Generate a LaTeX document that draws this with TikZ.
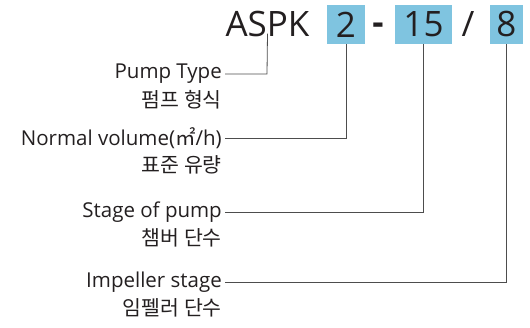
\documentclass[tikz,border=0pt]{standalone}
\usepackage{fontspec}
\setmainfont{Open Sans}
\newfontfamily\kofont{Noto Sans CJK KR}
\usepackage{xcolor}
\usetikzlibrary{positioning, calc}
\definecolor{codeblue}{HTML}{7FC4E0}
\definecolor{inkgray}{HTML}{231F20}
\definecolor{leadgray}{HTML}{4D4D4D}

\begin{document}
\begin{tikzpicture}[x=1pt, y=-1pt,
  codebox/.style={fill=codeblue, inner sep=0pt, minimum height=39pt,
                  text=inkgray, font=\fontsize{35}{35}\selectfont},
  sep/.style={inner sep=0pt, text=inkgray, font=\fontsize{35}{35}\selectfont},
  enlabel/.style={anchor=east, inner sep=3pt, text=inkgray,
                  font=\fontsize{20.5}{20.5}\selectfont},
  kolabel/.style={anchor=east, inner sep=3pt, text=inkgray,
                  font=\kofont\fontsize{20.5}{20.5}\selectfont},
  lead/.style={draw=leadgray, line width=0.8pt}
]
  \useasboundingbox (0,0) rectangle (530,328);
  % model code
  \node[sep] (model) at (267.5,24.5) {ASPK};
  \node[codebox, minimum width=38pt] (pump) at (346,24.5) {2};
  \node[sep, font=\bfseries\fontsize{35}{35}\selectfont] (dash) at (378,28.5) {-};
  \node[codebox, minimum width=57pt] (flow) at (423.5,24.5) {15};
  \node[sep] (slash) at (468,24.5) {/};
  \node[codebox, minimum width=33pt] (imp) at (506.5,24.5) {8};
  % labels
  \node[enlabel] (ptype) at (225,74) {Pump Type};
  \node[kolabel] (ptypeko) at (225,100) {펌프 형식};
  \node[enlabel] (vol) at (225,138) {Normal volume({\kofont ㎡}/h)};
  \node[kolabel] (volko) at (225,165) {표준 유량};
  \node[enlabel] (stage) at (225,212) {Stage of pump};
  \node[kolabel] (stageko) at (225,238) {챔버 단수};
  \node[enlabel] (impst) at (225,282) {Impeller stage};
  \node[kolabel] (impstko) at (225,308) {임펠러 단수};
  % leader lines
  \coordinate (c1) at (267,75);
  \coordinate (c2) at (346,138);
  \coordinate (c3) at (423.5,212);
  \coordinate (c4) at (506.5,282);
  \draw[lead] (ptype.east) -- (ptype.east -| c1) -- ($(model.south)+(0,-4)$);
  \draw[lead] (vol.east) -- (vol.east -| c2) -- (pump.south);
  \draw[lead] (stage.east) -- (stage.east -| c3) -- (flow.south);
  \draw[lead] (impst.east) -- (impst.east -| c4) -- (imp.south);
\end{tikzpicture}
\end{document}
